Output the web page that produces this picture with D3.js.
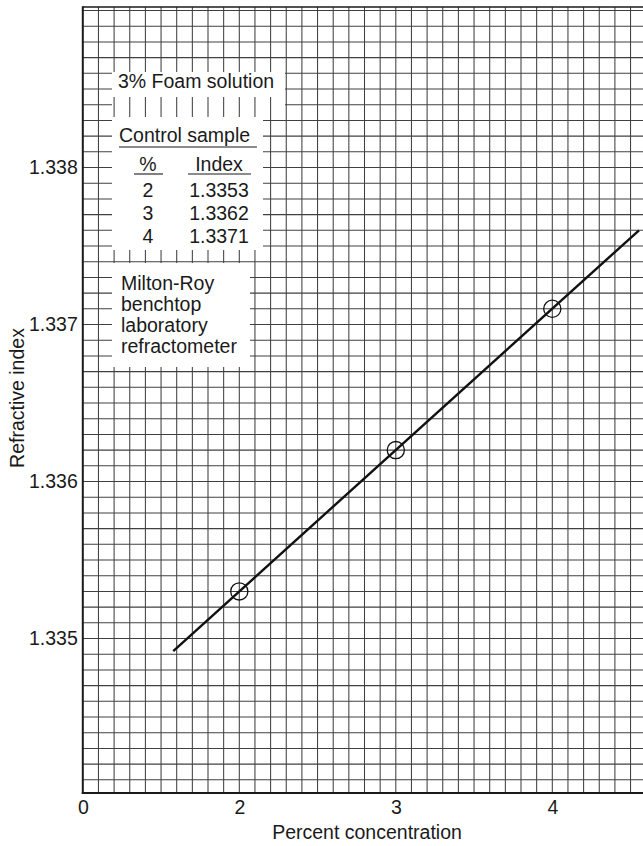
<!DOCTYPE html>
<html>
<head>
<meta charset="utf-8">
<script src="https://cdn.jsdelivr.net/npm/d3@7/dist/d3.min.js"></script>
<style>
  html, body { margin: 0; padding: 0; background: #fff; }
  svg { display: block; }
  text { font-family: "Liberation Sans", Arial, Helvetica, sans-serif; fill: #1a1a1a; }
</style>
</head>
<body>
<svg id="chart" width="643" height="846"></svg>
<script>
// ---- data ----
const xTickValues = [1, 2, 3, 4];          // axis positions (first one is a broken-axis "0")
const xTickLabels = ["0", "2", "3", "4"];
const yTickValues = [1.335, 1.336, 1.337, 1.338];
const yTickLabels = ["1.335", "1.336", "1.337", "1.338"];
const sampleConc = [2, 3, 4];
const sampleIndex = [1.3353, 1.3362, 1.3371];
const sampleIndexLabels = ["1.3353", "1.3362", "1.3371"];
const fitX = [1.578, 4.554];
const fitY = [1.33492, 1.3376];
const titleText = "3% Foam solution";
const instrumentLines = ["Milton-Roy", "benchtop", "laboratory", "refractometer"];

// ---- layout ----
const W = 643, H = 846;
const plotTop = 7, plotBottom = 793;
const svg = d3.select("#chart");

const x = d3.scaleLinear().domain([2, 4]).range([239.3, 552.3]);
const y = d3.scaleLinear().domain([1.335, 1.338]).range([638.5, 167.5]);
const plotLeft = x(1);
const plotRight = x(4.62);
const yMin = y.invert(plotBottom), yMax = y.invert(plotTop);

// knockout boxes: [x0, y0, x1, y1]
const boxes = [
  { v: [109, 72, 283, 97],  h: [112, 62, 285, 112] },
  { v: [108, 117, 268, 250], h: [112, 112, 263, 257] },
  { v: [108, 263, 253, 367], h: [112, 265, 250, 366] }
];

const defs = svg.append("defs");
function makeMask(id, key) {
  const m = defs.append("mask").attr("id", id).attr("maskUnits", "userSpaceOnUse")
    .attr("x", 0).attr("y", 0).attr("width", W).attr("height", H);
  m.append("rect").attr("x", 0).attr("y", 0).attr("width", W).attr("height", H).attr("fill", "#fff");
  m.selectAll("rect.k").data(boxes).enter().append("rect").attr("class", "k")
    .attr("x", d => d[key][0]).attr("y", d => d[key][1])
    .attr("width", d => d[key][2] - d[key][0]).attr("height", d => d[key][3] - d[key][1])
    .attr("fill", "#000");
}
makeMask("mH", "h");
makeMask("mV", "v");

// ---- grid ----
const gridColor = "#404040";
const vVals = d3.range(11, 47).map(i => i / 10);
const hVals = d3.range(13341, 13391).map(i => i / 10000).filter(v => v > yMin && v < yMax);

svg.append("g").attr("mask", "url(#mV)")
  .selectAll("line").data(vVals).enter().append("line")
  .attr("x1", d => x(d)).attr("x2", d => x(d))
  .attr("y1", plotTop).attr("y2", plotBottom)
  .attr("stroke", gridColor).attr("stroke-width", 1.05);

svg.append("g").attr("mask", "url(#mH)")
  .selectAll("line").data(hVals).enter().append("line")
  .attr("x1", plotLeft).attr("x2", plotRight)
  .attr("y1", d => y(d)).attr("y2", d => y(d))
  .attr("stroke", gridColor).attr("stroke-width", 1.05);

// borders
svg.append("line").attr("x1", plotLeft).attr("x2", plotLeft).attr("y1", plotTop - 0.8).attr("y2", plotBottom + 1)
  .attr("stroke", "#1a1a1a").attr("stroke-width", 2);
svg.append("line").attr("x1", plotLeft - 1).attr("x2", plotRight).attr("y1", plotBottom).attr("y2", plotBottom)
  .attr("stroke", "#1a1a1a").attr("stroke-width", 2.2);
svg.append("line").attr("x1", plotLeft).attr("x2", plotRight).attr("y1", plotTop).attr("y2", plotTop)
  .attr("stroke", "#1a1a1a").attr("stroke-width", 1.6);

// ---- axes ----
const fs = 19.5;
const xAxis = d3.axisBottom(x).tickValues(xTickValues).tickFormat((d, i) => xTickLabels[i]).tickSize(0).tickPadding(0);
const gx = svg.append("g").attr("transform", `translate(0,${plotBottom})`).call(xAxis);
gx.select(".domain").remove();
gx.selectAll("text").attr("font-size", fs).attr("fill", "#1a1a1a")
  .attr("dy", null).attr("y", 21).attr("font-family", "Liberation Sans, Arial, sans-serif");

const yAxis = d3.axisLeft(y).tickValues(yTickValues).tickFormat((d, i) => yTickLabels[i]).tickSize(0).tickPadding(5);
const gy = svg.append("g").attr("transform", `translate(${plotLeft},0)`).call(yAxis);
gy.select(".domain").remove();
gy.selectAll("text").attr("font-size", fs).attr("fill", "#1a1a1a").attr("font-family", "Liberation Sans, Arial, sans-serif");

svg.append("text").attr("x", 367).attr("y", 839).attr("text-anchor", "middle")
  .attr("font-size", fs).text("Percent concentration");
svg.append("text").attr("transform", "translate(24,398) rotate(-90)").attr("text-anchor", "middle")
  .attr("font-size", fs).text("Refractive index");

// ---- fit line and points ----
const fitData = fitX.map((v, i) => [v, fitY[i]]);
svg.append("path").datum(fitData)
  .attr("d", d3.line().x(d => x(d[0])).y(d => y(d[1])))
  .attr("stroke", "#111").attr("stroke-width", 2.4).attr("fill", "none");

svg.selectAll("circle.pt").data(sampleConc.map((c, i) => [c, sampleIndex[i]])).enter()
  .append("circle").attr("class", "pt")
  .attr("cx", d => x(d[0])).attr("cy", d => y(d[1])).attr("r", 8.6)
  .attr("fill", "none").attr("stroke", "#111").attr("stroke-width", 1.3);

// ---- annotation text ----
svg.append("text").attr("x", 118).attr("y", 88).attr("font-size", fs).text(titleText);

svg.append("text").attr("x", 119).attr("y", 141.5).attr("font-size", fs).text("Control sample");
svg.append("line").attr("x1", 119).attr("x2", 257).attr("y1", 147).attr("y2", 147).attr("stroke", "#1a1a1a").attr("stroke-width", 1.1);

const colPct = 148, colIdx = 219;
svg.append("text").attr("x", colPct).attr("y", 170.5).attr("text-anchor", "middle").attr("font-size", fs).text("%");
svg.append("text").attr("x", colIdx).attr("y", 170.5).attr("text-anchor", "middle").attr("font-size", fs).text("Index");
svg.append("line").attr("x1", 134).attr("x2", 163).attr("y1", 174).attr("y2", 174).attr("stroke", "#1a1a1a").attr("stroke-width", 1.1);
svg.append("line").attr("x1", 188).attr("x2", 251).attr("y1", 174).attr("y2", 174).attr("stroke", "#1a1a1a").attr("stroke-width", 1.1);

sampleConc.forEach((c, i) => {
  const by = 196.7 + i * 23.3;
  svg.append("text").attr("x", colPct).attr("y", by).attr("text-anchor", "middle").attr("font-size", fs).text(String(c));
  svg.append("text").attr("x", colIdx).attr("y", by).attr("text-anchor", "middle").attr("font-size", fs).text(sampleIndexLabels[i]);
});

instrumentLines.forEach((t, i) => {
  svg.append("text").attr("x", 121).attr("y", 290 + i * 21).attr("font-size", fs).text(t);
});
</script>
</body>
</html>
